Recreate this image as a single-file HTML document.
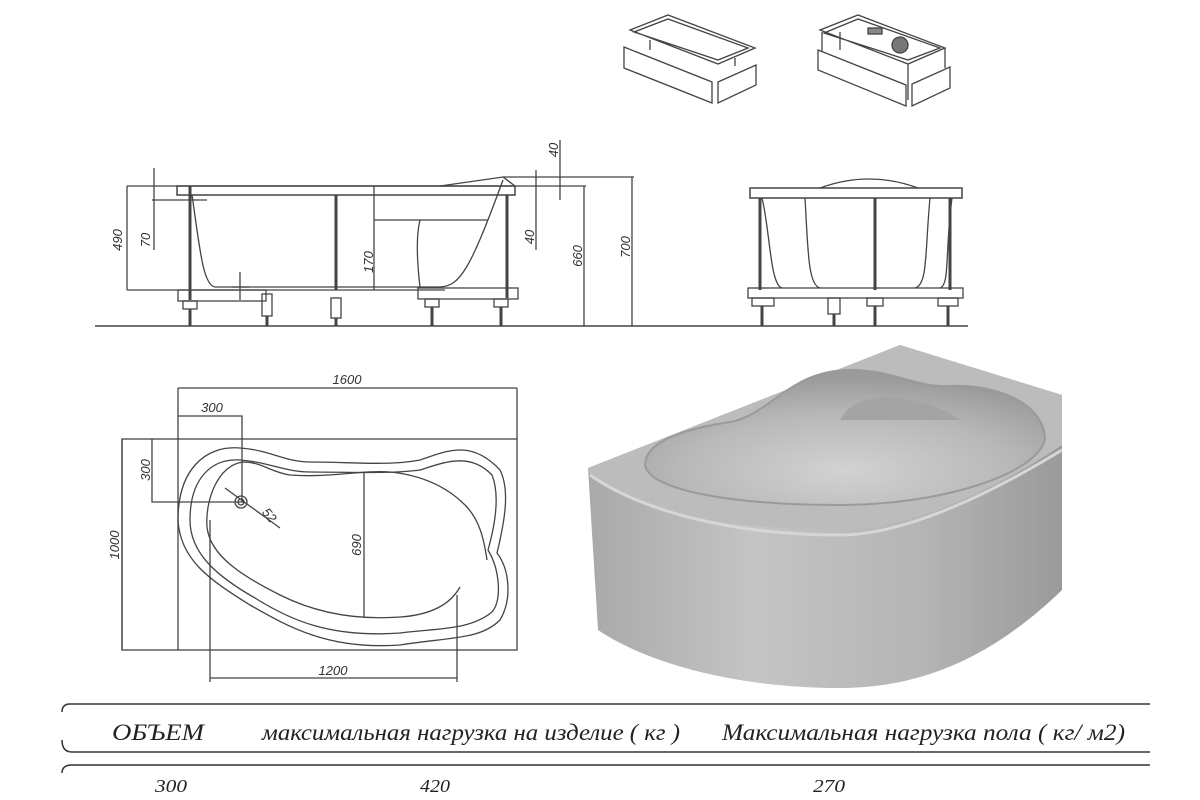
<!DOCTYPE html>
<html><head><meta charset="utf-8"><style>
html,body{margin:0;padding:0;background:#fff;}
svg{display:block;}
text{font-family:"Liberation Sans",sans-serif;fill:#333;}
.d{font-size:13px;font-style:italic;}
.t{font-family:"Liberation Serif","DejaVu Serif",serif;font-style:italic;font-size:23px;fill:#222;}
.n{font-family:"Liberation Serif","DejaVu Serif",serif;font-style:italic;font-size:18px;fill:#222;}
</style></head><body>
<svg width="1200" height="800" viewBox="0 0 1200 800" xmlns="http://www.w3.org/2000/svg">
<defs>
<linearGradient id="g1" x1="0" x2="1" y1="0" y2="0">
<stop offset="0" stop-color="#a9a9a9"/><stop offset="0.35" stop-color="#c4c4c4"/><stop offset="0.7" stop-color="#b5b5b5"/><stop offset="1" stop-color="#9a9a9a"/></linearGradient>
<radialGradient id="g3" cx="0.5" cy="0.75" r="0.7">
<stop offset="0" stop-color="#d2d2d2"/><stop offset="0.6" stop-color="#b8b8b8"/><stop offset="1" stop-color="#9a9a9a"/></radialGradient>
</defs>
<g fill="none" stroke="#444" stroke-width="1.3">
<!-- small icons -->
<path d="M630 30 L668 15 L755 48 L718 64 Z M634 32 L668 19 L748 48 L718 60 Z M650 40 L650 50 M735 58 L735 66"/>
<path d="M624 47 L712 82 L712 103 L624 68 Z M718 82 L756 65 L756 85 L718 103 Z"/>
<path d="M820 30 L858 15 L945 48 L908 64 Z M824 33 L858 19 L940 48 L908 60 Z M822 32 L822 52 M908 64 L908 100 M945 48 L945 68 M840 32 V50"/>
<path d="M818 50 L906 85 L906 106 L818 70 Z M912 84 L950 67 L950 88 L912 106 Z"/>
<rect x="868" y="28" width="14" height="6" fill="#888"/><circle cx="900" cy="45" r="8" fill="#777"/>
<!-- ground -->
<line x1="95" y1="326" x2="968" y2="326" stroke-width="1.6"/>
<!-- side view -->
<line x1="127" y1="186" x2="586" y2="186"/>
<line x1="503" y1="177" x2="634" y2="177"/>
<line x1="127" y1="290" x2="445" y2="290"/>
<rect x="177" y="186" width="338" height="9" stroke-width="1.5"/>
<path d="M440 186 L503 177 L515 186"/>
<path d="M192 195 C200 250 203 285 215 287 L440 287 C460 286 470 270 503 180" />
<path d="M374 220 L488 220 M420 220 C415 240 418 270 420 287"/>
<line x1="190" y1="186" x2="190" y2="300" stroke-width="3"/>
<line x1="336" y1="195" x2="336" y2="290" stroke-width="3"/>
<line x1="507" y1="195" x2="507" y2="298" stroke-width="3"/>
<rect x="178" y="290" width="88" height="11"/><rect x="418" y="288" width="100" height="11"/>
<rect x="183" y="301" width="14" height="8"/><rect x="262" y="294" width="10" height="22"/><rect x="331" y="298" width="10" height="20"/>
<rect x="425" y="299" width="14" height="8"/><rect x="494" y="299" width="14" height="8"/>
<path d="M190 309 V326 M267 316 V326 M336 318 V326 M432 307 V326 M501 307 V326" stroke-width="3"/>
<path d="M127 186 V290 M154 168 V250 M152 200 H207 M374 186 V290 M536 170 V250 M560 140 V200 M584 186 V326 M632 177 V326 M240 272 V300 M232 287 H250"/>
<!-- front view -->
<path d="M820 188 Q869 170 918 188"/>
<rect x="750" y="188" width="212" height="10" stroke-width="1.5"/>
<path d="M762 198 C770 230 770 285 782 288 M805 198 C808 250 808 285 820 288 M930 198 C925 250 928 285 915 288 M952 198 C945 250 950 285 940 288"/>
<path d="M760 198 V290 M875 198 V290 M950 198 V290" stroke-width="3"/>
<rect x="748" y="288" width="215" height="10"/>
<rect x="752" y="298" width="22" height="8"/><rect x="828" y="298" width="12" height="16"/><rect x="867" y="298" width="16" height="8"/><rect x="938" y="298" width="20" height="8"/>
<path d="M762 306 V326 M834 314 V326 M875 306 V326 M948 306 V326" stroke-width="3"/>
<!-- plan view -->
<rect x="122" y="439" width="395" height="211"/>
<path d="M178 388 V650 M517 388 V439 M178 388 H517 M178 416 H242 V502 M152 439 V502 H245 M122 439 V650 M210 520 V682 M457 595 V682 M210 678 H457 M364 472 V617 M225 488 L280 528"/>
<path d="M178 520 C178 470 205 445 240 448 C270 450 285 462 310 462 C350 462 390 466 420 460 C445 452 470 438 500 470 C510 490 505 520 497 553 C510 570 512 600 500 620 C480 640 450 637 400 645 C330 650 290 628 250 605 C210 580 180 560 178 520 Z"/>
<path d="M190 520 C190 478 212 458 240 460 C268 462 285 472 310 472 C350 472 390 474 420 470 C445 462 470 452 492 475 C500 495 495 525 488 550 C500 570 502 600 492 612 C470 630 440 628 400 633 C330 638 290 620 255 598 C220 578 190 555 190 520 Z"/>
<path d="M207 527 C205 500 218 465 243 462 C262 462 270 472 290 475 C330 478 360 470 390 472 C420 475 445 485 465 505 C480 520 484 540 487 560 M460 587 C450 605 430 615 400 617 C360 620 320 615 280 595 C240 575 210 555 207 527"/>
<circle cx="241" cy="502" r="6"/><circle cx="241" cy="502" r="3"/>
</g>
<g class="d">
<text transform="translate(122,240) rotate(-90)" text-anchor="middle">490</text>
<text transform="translate(150,240) rotate(-90)" text-anchor="middle">70</text>
<text transform="translate(373,262) rotate(-90)" text-anchor="middle">170</text>
<text transform="translate(534,237) rotate(-90)" text-anchor="middle">40</text>
<text transform="translate(558,150) rotate(-90)" text-anchor="middle">40</text>
<text transform="translate(582,256) rotate(-90)" text-anchor="middle">660</text>
<text transform="translate(630,247) rotate(-90)" text-anchor="middle">700</text>
<text x="347" y="384" text-anchor="middle">1600</text>
<text x="212" y="412" text-anchor="middle">300</text>
<text transform="translate(150,470) rotate(-90)" text-anchor="middle">300</text>
<text transform="translate(119,545) rotate(-90)" text-anchor="middle">1000</text>
<text transform="translate(361,545) rotate(-90)" text-anchor="middle">690</text>
<text x="333" y="675" text-anchor="middle">1200</text>
<text transform="translate(266,518) rotate(50)" text-anchor="middle">52</text>
</g>
<!-- 3D tub -->
<path d="M588 468 L900 345 L1062 395 L1062 590 C1000 650 930 688 840 688 C740 688 650 665 598 630 Z" fill="url(#g1)"/>
<path d="M588 468 L900 345 L1062 395 L1062 445 C980 500 900 530 840 530 C730 530 640 510 590 475 Z" fill="#bcbcbc"/>
<path d="M645 465 C645 440 690 428 730 422 C770 415 790 370 850 370 C895 370 915 388 950 386 C1000 384 1045 405 1045 440 C1035 475 940 505 840 505 C740 505 650 492 645 465 Z" fill="url(#g3)" stroke="#9a9a9a" stroke-width="2"/>
<path d="M840 420 C850 400 875 395 900 398 C930 402 950 412 960 420 Z" fill="#a4a4a4"/>
<path d="M590 475 C640 510 730 535 840 535 C900 535 980 500 1062 450" stroke="#d6d6d6" stroke-width="3" fill="none"/>
<!-- table -->
<g fill="none" stroke="#333" stroke-width="1.5">
<path d="M1150 704 H70 Q62 704 62 712 M62 740 Q62 752 72 752 H1150"/>
<path d="M1150 765 H72 Q62 765 62 773"/>
</g>
<text class="t" x="112" y="740" textLength="92" lengthAdjust="spacingAndGlyphs">ОБЪЕМ</text>
<text class="t" x="262" y="740" textLength="418" lengthAdjust="spacingAndGlyphs">максимальная нагрузка на изделие ( кг )</text>
<text class="t" x="722" y="740" textLength="403" lengthAdjust="spacingAndGlyphs">Максимальная нагрузка пола ( кг/ м2)</text>
<text class="n" x="155" y="792" textLength="32" lengthAdjust="spacingAndGlyphs">300</text>
<text class="n" x="420" y="792" textLength="30" lengthAdjust="spacingAndGlyphs">420</text>
<text class="n" x="813" y="792" textLength="32" lengthAdjust="spacingAndGlyphs">270</text>
</svg>
</body></html>
